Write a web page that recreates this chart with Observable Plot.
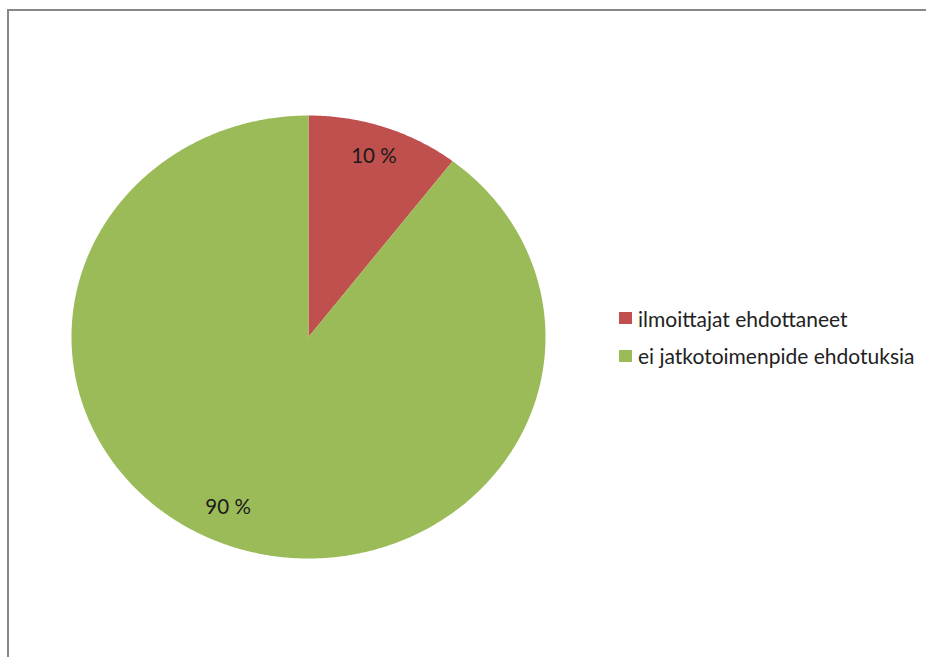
<!DOCTYPE html>
<html>
<head>
<meta charset="utf-8">
<script src="https://cdn.jsdelivr.net/npm/d3@7"></script>
<script src="https://cdn.jsdelivr.net/npm/@observablehq/plot@0.6"></script>
<style>
  html, body { margin: 0; padding: 0; background: #fff; }
  body { width: 926px; height: 657px; position: relative; overflow: hidden; font-family: Lato, "Open Sans", sans-serif; }
  #frame { position: absolute; left: 7px; top: 9px; right: -10px; bottom: -10px; border-top: 2px solid #878787; border-left: 2px solid #878787; }
  #chart { position: absolute; left: 0; top: 0; }
  #legend { position: absolute; left: 619px; top: 299.5px; font-size: 21px; color: #222; }
  #legend .row { display: flex; align-items: center; height: 37.5px; }
  #legend .sw { width: 13px; height: 12px; margin-right: 6px; }
</style>
</head>
<body>
<div id="frame"></div>
<div id="chart"></div>
<div id="legend"></div>
<script>
const categories = ["ilmoittajat ehdottaneet", "ei jatkotoimenpide ehdotuksia"];
const values = [10.4, 89.6];
const labels = ["10 %", "90 %"];
const colors = ["#C0504D", "#9BBB59"];

const total = d3.sum(values);
const polys = [];
const labelPts = [];
let start = 0;
values.forEach((v, i) => {
  const a0 = start / total * 2 * Math.PI;
  const a1 = (start + v) / total * 2 * Math.PI;
  polys.push({cat: categories[i], x: 0, y: 0, k: 0});
  const n = Math.max(2, Math.ceil((a1 - a0) / (Math.PI / 360)));
  for (let j = 0; j <= n; j++) {
    const a = a0 + (a1 - a0) * j / n;
    polys.push({cat: categories[i], x: Math.sin(a), y: Math.cos(a), k: j + 1});
  }
  polys.push({cat: categories[i], x: 0, y: 0, k: n + 2});
  const m = (a0 + a1) / 2;
  labelPts.push({i, text: labels[i], x: 0.86 * Math.sin(m), y: 0.86 * Math.cos(m)});
  start += v;
});

const W = 926, H = 657;
const cx = 308, cy = 336.5, rx = 237, ry = 221.5;

const plot = Plot.plot({
  width: W, height: H,
  margin: 0,
  x: {domain: [-cx / rx, (W - cx) / rx], range: [0, W], axis: null},
  y: {domain: [-(H - cy) / ry, cy / ry], range: [H, 0], axis: null},
  color: {domain: categories, range: colors},
  style: {background: "transparent", fontFamily: "Lato, 'Open Sans', sans-serif"},
  marks: [
    Plot.line(polys, {x: "x", y: "y", z: "cat", fill: "cat", stroke: "none", curve: "linear"}),
    Plot.text(labelPts.filter(d => d.i === 0), {x: "x", y: "y", text: "text", fontSize: 20.5, fill: "#1a1a1a"}),
    Plot.text(labelPts.filter(d => d.i === 1), {x: "x", y: "y", text: "text", fontSize: 20.5, fill: "#1a1a1a", dx: -15, dy: -10})
  ]
});
document.getElementById("chart").appendChild(plot);

const legend = document.getElementById("legend");
categories.forEach((c, i) => {
  const row = document.createElement("div");
  row.className = "row";
  const sw = document.createElement("div");
  sw.className = "sw";
  sw.style.background = colors[i];
  const t = document.createElement("span");
  t.textContent = c;
  row.appendChild(sw);
  row.appendChild(t);
  legend.appendChild(row);
});
</script>
</body>
</html>
